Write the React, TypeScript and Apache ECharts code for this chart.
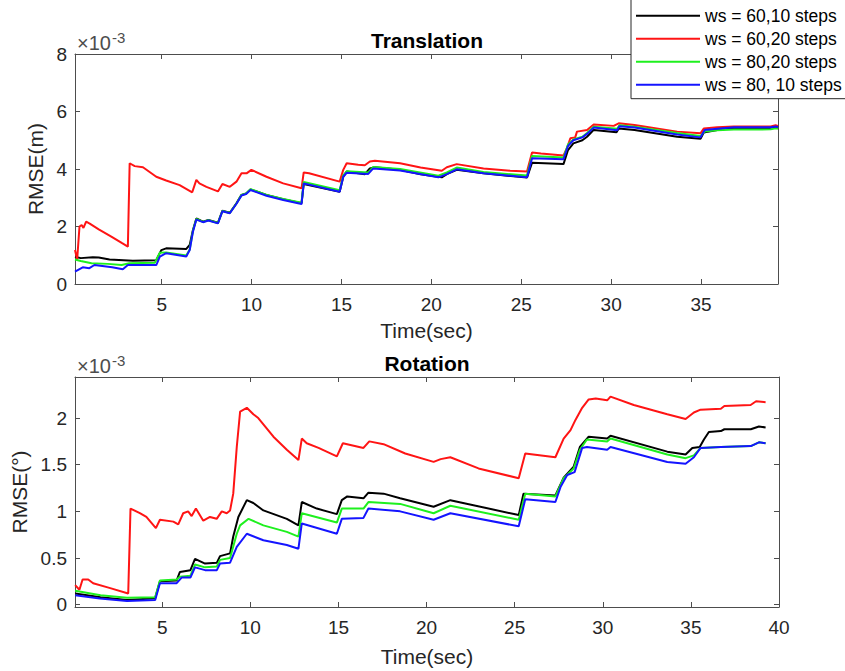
import { useEffect, useRef } from 'react';
import * as echarts from 'echarts';

type Pt = [number, number];

const seriesNames = ['ws = 60,10 steps', 'ws = 60,20 steps', 'ws = 80,20 steps', 'ws = 80, 10 steps'];
const seriesColors = ['#000000', '#ff1414', '#1ef01e', '#1414ff'];

// Translation RMSE (x1e-3 m) over time (sec)
const transWs60s10: Pt[] = [
  [0.18, 0.95], [0.5, 0.9], [1.17, 0.93], [1.5, 0.92], [2.1, 0.85], [3.4, 0.81], [4.7, 0.83], [4.98, 1.18],
  [5.25, 1.24], [6.37, 1.22], [6.56, 1.36], [6.74, 1.88], [6.93, 2.28], [7.3, 2.17], [7.6, 2.23], [8.13, 2.13],
  [8.38, 2.55], [8.79, 2.48], [9.16, 2.81], [9.44, 3.1], [9.7, 3.15], [9.94, 3.29], [10.83, 3.1], [11.76, 2.95],
  [12.78, 2.81], [12.9, 3.48], [14.9, 3.21], [15.1, 3.73], [15.29, 3.91], [15.93, 3.85], [16.3, 3.82], [16.58, 4.02],
  [16.86, 4.06], [18.26, 3.97], [19.4, 3.82], [20.58, 3.71], [20.86, 3.82], [21.41, 3.97], [22.9, 3.85], [25.32, 3.7],
  [25.6, 4.22], [27.35, 4.17], [27.6, 4.66], [27.9, 4.89], [28.4, 5.0], [28.66, 5.12], [29.03, 5.36], [30.3, 5.28],
  [30.42, 5.41], [31.3, 5.36], [33.67, 5.12], [34.97, 5.05], [35.15, 5.27], [35.9, 5.36], [36.83, 5.43], [38.87, 5.43],
  [39.15, 5.47], [39.28, 5.45],
];
const transWs60s20: Pt[] = [
  [0.18, 1.18], [0.3, 0.85], [0.43, 2.0], [0.55, 2.05], [0.65, 1.95], [0.8, 2.17], [1.0, 2.1], [1.5, 1.9],
  [2.2, 1.65], [2.8, 1.42], [3.12, 1.3], [3.22, 4.2], [3.5, 4.1], [3.96, 4.06], [4.7, 3.73], [5.25, 3.6],
  [6.0, 3.44], [6.7, 3.19], [6.93, 3.62], [7.1, 3.5], [7.49, 3.38], [8.13, 3.22], [8.38, 3.48], [8.79, 3.38],
  [9.16, 3.56], [9.44, 3.85], [9.72, 3.85], [9.99, 3.97], [10.83, 3.73], [11.76, 3.5], [12.78, 3.33], [12.9, 3.88],
  [13.2, 3.85], [14.9, 3.56], [15.1, 3.97], [15.29, 4.2], [15.93, 4.15], [16.3, 4.13], [16.58, 4.26], [16.86, 4.29],
  [18.26, 4.2], [19.4, 4.05], [20.58, 3.94], [20.86, 4.06], [21.41, 4.17], [22.9, 4.02], [24.38, 3.94], [25.32, 3.91],
  [25.6, 4.57], [26.1, 4.54], [27.35, 4.47], [27.54, 4.72], [27.73, 5.07], [28.0, 5.1], [28.1, 5.3], [28.66, 5.36],
  [29.03, 5.55], [30.14, 5.5], [30.42, 5.59], [31.3, 5.53], [33.67, 5.3], [34.97, 5.24], [35.15, 5.41], [35.9, 5.45],
  [36.83, 5.48], [38.87, 5.48], [39.15, 5.52], [39.28, 5.5],
];
const transWs80s20: Pt[] = [
  [0.18, 0.85], [0.5, 0.8], [1.1, 0.72], [2.0, 0.7], [2.77, 0.66], [3.2, 0.72], [4.62, 0.74], [4.9, 1.09],
  [5.25, 1.1], [6.37, 0.99], [6.56, 1.2], [6.74, 1.85], [6.93, 2.26], [7.3, 2.16], [7.6, 2.22], [8.13, 2.12],
  [8.38, 2.54], [8.79, 2.47], [9.16, 2.8], [9.44, 3.1], [9.7, 3.15], [9.94, 3.3], [10.83, 3.1], [11.76, 2.96],
  [12.78, 2.83], [12.9, 3.55], [14.9, 3.26], [15.1, 3.78], [15.29, 3.92], [16.49, 3.88], [16.77, 4.07], [18.26, 4.0],
  [20.39, 3.77], [20.86, 3.88], [21.41, 4.05], [22.9, 3.9], [25.32, 3.77], [25.6, 4.45], [27.35, 4.4], [27.6, 4.85],
  [27.9, 5.03], [28.4, 5.12], [28.66, 5.25], [29.03, 5.47], [30.33, 5.4], [30.46, 5.52], [31.3, 5.47], [33.67, 5.25],
  [34.97, 5.15], [35.2, 5.3], [35.9, 5.35], [36.83, 5.37], [38.87, 5.38], [39.15, 5.42], [39.28, 5.4],
];
const transWs80s10: Pt[] = [
  [0.18, 0.43], [0.61, 0.58], [0.98, 0.55], [1.26, 0.66], [2.25, 0.58], [2.84, 0.51], [3.12, 0.66], [4.7, 0.66],
  [4.9, 0.95], [5.25, 1.07], [6.37, 0.96], [6.56, 1.18], [6.74, 1.82], [6.93, 2.24], [7.3, 2.15], [7.6, 2.21],
  [8.13, 2.11], [8.38, 2.53], [8.79, 2.46], [9.16, 2.79], [9.44, 3.08], [9.7, 3.13], [9.94, 3.27], [10.83, 3.07],
  [11.76, 2.92], [12.78, 2.78], [12.9, 3.5], [14.9, 3.21], [15.1, 3.73], [15.29, 3.87], [16.49, 3.83], [16.77, 4.02],
  [18.26, 3.95], [20.39, 3.71], [20.86, 3.82], [21.41, 3.99], [22.9, 3.85], [25.32, 3.71], [25.6, 4.37], [27.35, 4.34],
  [27.6, 4.8], [27.9, 5.0], [28.4, 5.1], [28.66, 5.22], [29.03, 5.44], [30.33, 5.35], [30.46, 5.49], [31.3, 5.44],
  [33.67, 5.2], [34.97, 5.1], [35.2, 5.36], [35.9, 5.4], [36.83, 5.45], [38.87, 5.45], [39.15, 5.48], [39.28, 5.46],
];

// Rotation RMSE (x1e-3 deg) over time (sec)
const rotWs60s10: Pt[] = [
  [0.06, 0.12], [1.5, 0.08], [3.0, 0.05], [4.6, 0.07], [4.87, 0.25], [5.82, 0.26], [6.0, 0.35], [6.6, 0.37],
  [6.86, 0.49], [7.43, 0.44], [8.1, 0.45], [8.28, 0.52], [8.85, 0.55], [9.03, 0.73], [9.32, 0.94], [9.8, 1.12],
  [10.17, 1.09], [10.74, 1.01], [12.07, 0.92], [12.73, 0.85], [12.92, 1.1], [13.77, 1.03], [14.91, 0.97], [15.19, 1.12],
  [15.5, 1.16], [16.42, 1.14], [16.7, 1.2], [17.56, 1.19], [18.5, 1.14], [20.4, 1.05], [21.35, 1.12], [25.23, 0.96],
  [25.5, 1.19], [27.31, 1.17], [27.78, 1.36], [28.35, 1.48], [28.7, 1.69], [29.2, 1.8], [30.25, 1.78], [30.44, 1.81],
  [33.66, 1.64], [34.7, 1.61], [35.08, 1.68], [35.5, 1.69], [35.74, 1.77], [36.02, 1.85], [36.7, 1.86], [36.9, 1.88],
  [38.4, 1.88], [38.86, 1.91], [39.24, 1.9],
];
const rotWs60s20: Pt[] = [
  [0.06, 0.21], [0.3, 0.16], [0.48, 0.27], [0.8, 0.27], [1.08, 0.23], [2.0, 0.18], [3.07, 0.12], [3.2, 1.03],
  [3.73, 0.98], [4.1, 0.94], [4.64, 0.82], [4.87, 0.91], [5.63, 0.89], [5.91, 0.86], [6.19, 0.98], [6.47, 1.0],
  [6.67, 0.95], [6.91, 1.03], [7.33, 0.9], [7.71, 0.94], [8.09, 0.92], [8.38, 1.0], [8.66, 0.98], [8.85, 1.01],
  [9.03, 1.19], [9.23, 1.69], [9.42, 2.07], [9.8, 2.11], [10.17, 2.04], [10.45, 2.0], [11.31, 1.8], [12.07, 1.66],
  [12.73, 1.55], [12.92, 1.78], [13.2, 1.73], [13.87, 1.68], [14.91, 1.59], [15.25, 1.73], [16.42, 1.68], [16.75, 1.75],
  [17.56, 1.72], [18.79, 1.62], [20.4, 1.53], [20.8, 1.56], [21.35, 1.58], [22.95, 1.46], [25.23, 1.355], [25.6, 1.62],
  [27.31, 1.58], [27.78, 1.78], [28.17, 1.87], [28.45, 1.98], [28.83, 2.11], [29.2, 2.2], [29.6, 2.21], [30.25, 2.19],
  [30.44, 2.23], [31.76, 2.14], [33.66, 2.04], [34.7, 1.99], [35.17, 2.06], [35.55, 2.09], [36.7, 2.1], [36.9, 2.13],
  [38.39, 2.14], [38.7, 2.18], [39.24, 2.17],
];
const rotWs80s20: Pt[] = [
  [0.06, 0.15], [1.5, 0.1], [3.0, 0.075], [4.6, 0.08], [4.87, 0.26], [5.82, 0.27], [6.0, 0.3], [6.6, 0.31],
  [6.86, 0.43], [7.43, 0.4], [8.1, 0.41], [8.28, 0.48], [8.85, 0.5], [9.23, 0.76], [9.42, 0.85], [9.9, 0.92],
  [10.74, 0.85], [12.07, 0.78], [12.73, 0.73], [12.92, 0.98], [14.91, 0.88], [15.19, 1.03], [16.42, 1.03], [16.7, 1.1],
  [18.5, 1.08], [20.4, 0.98], [21.35, 1.06], [25.23, 0.91], [25.6, 1.19], [27.31, 1.16], [27.78, 1.355], [28.35, 1.46],
  [28.7, 1.66], [29.1, 1.77], [30.25, 1.75], [30.44, 1.78], [33.66, 1.61], [34.7, 1.57], [35.17, 1.6], [35.55, 1.68],
  [36.7, 1.69], [38.4, 1.7], [38.86, 1.74], [39.24, 1.73],
];
const rotWs80s10: Pt[] = [
  [0.06, 0.1], [1.46, 0.065], [3.0, 0.04], [4.6, 0.05], [4.87, 0.23], [5.82, 0.23], [6.1, 0.29], [6.6, 0.29],
  [6.86, 0.4], [7.43, 0.37], [8.1, 0.37], [8.28, 0.44], [8.85, 0.45], [9.23, 0.62], [9.8, 0.76], [10.74, 0.69],
  [12.07, 0.64], [12.73, 0.6], [12.92, 0.87], [14.91, 0.76], [15.19, 0.92], [16.42, 0.93], [16.7, 1.03], [18.5, 1.0],
  [20.4, 0.91], [21.35, 0.98], [25.23, 0.84], [25.6, 1.13], [27.31, 1.1], [27.6, 1.26], [27.98, 1.39], [28.4, 1.42],
  [28.83, 1.68], [29.1, 1.69], [30.25, 1.66], [30.44, 1.69], [33.66, 1.53], [34.7, 1.51], [35.17, 1.58], [35.55, 1.68],
  [36.7, 1.69], [38.4, 1.7], [38.86, 1.74], [39.24, 1.73],
];

const transXTicks = [5, 10, 15, 20, 25, 30, 35];
const transYTicks = [0, 2, 4, 6, 8];
const rotXTicks = [5, 10, 15, 20, 25, 30, 35, 40];
const rotYTicks = [0, 0.5, 1, 1.5, 2];

const FONT = '"Liberation Sans", Arial, Helvetica, sans-serif';
const AXIS_COLOR = '#4d4d4d';
const LABEL_COLOR = '#262626';

function xAxes(gridIndex: number, min: number, max: number, ticks: number[], nameGap: number) {
  const line = { show: true, onZero: false, lineStyle: { color: AXIS_COLOR, width: 1 } };
  const tick = { show: true, inside: true, length: 5, customValues: ticks, lineStyle: { color: AXIS_COLOR } };
  return [
    {
      gridIndex, type: 'value', position: 'bottom', min, max,
      axisLine: line, axisTick: tick, splitLine: { show: false },
      axisLabel: { customValues: ticks, margin: 11, fontSize: 19, color: LABEL_COLOR, fontFamily: FONT },
      name: 'Time(sec)', nameLocation: 'middle', nameGap,
      nameTextStyle: { fontSize: 21, color: LABEL_COLOR, fontFamily: FONT },
    },
    {
      gridIndex, type: 'value', position: 'top', min, max,
      axisLine: line, axisTick: tick, splitLine: { show: false }, axisLabel: { show: false },
    },
  ];
}

function yAxes(gridIndex: number, min: number, max: number, ticks: number[], name: string, nameGap: number) {
  const line = { show: true, onZero: false, lineStyle: { color: AXIS_COLOR, width: 1 } };
  const tick = { show: true, inside: true, length: 5, customValues: ticks, lineStyle: { color: AXIS_COLOR } };
  return [
    {
      gridIndex, type: 'value', position: 'left', min, max,
      axisLine: line, axisTick: tick, splitLine: { show: false },
      axisLabel: { customValues: ticks, margin: 8, fontSize: 19, color: LABEL_COLOR, fontFamily: FONT },
      name, nameLocation: 'middle', nameGap,
      nameTextStyle: { fontSize: 21, color: LABEL_COLOR, fontFamily: FONT },
    },
    {
      gridIndex, type: 'value', position: 'right', min, max,
      axisLine: line, axisTick: tick, splitLine: { show: false }, axisLabel: { show: false },
    },
  ];
}

function lineSeries(name: string, color: string, data: Pt[], axisIndex: number) {
  return {
    type: 'line', name, data, xAxisIndex: axisIndex, yAxisIndex: axisIndex,
    showSymbol: false, symbol: 'none', lineStyle: { color, width: 2 }, itemStyle: { color },
    clip: true,
  };
}

// "×10^-3" multiplier drawn above the y axis
function exponentLabel(x: number, baseBottom: number) {
  return [
    {
      type: 'text', x, y: baseBottom,
      style: { text: '×10', font: `20px ${FONT}`, fill: AXIS_COLOR, textAlign: 'left', textVerticalAlign: 'bottom' },
    },
    {
      type: 'text', x: x + 35, y: baseBottom - 23,
      style: { text: '-3', font: `15px ${FONT}`, fill: AXIS_COLOR, textAlign: 'left', textVerticalAlign: 'top' },
    },
  ];
}

export default function App() {
  const ref = useRef<HTMLDivElement>(null);

  useEffect(() => {
    document.body.style.margin = '0';
    if (!ref.current) return;
    const chart = echarts.init(ref.current, undefined, { renderer: 'svg' });

    const transSets = [transWs60s10, transWs60s20, transWs80s20, transWs80s10];
    const rotSets = [rotWs60s10, rotWs60s20, rotWs80s20, rotWs80s10];

    chart.setOption({
      animation: false,
      backgroundColor: '#ffffff',
      grid: [
        { left: 75, top: 54, width: 703, height: 230 },
        { left: 75, top: 377, width: 704, height: 230 },
      ],
      xAxis: [
        ...xAxes(0, 0.18, 39.28, transXTicks, 36),
        ...xAxes(1, 0.05, 40, rotXTicks, 39),
      ],
      yAxis: [
        ...yAxes(0, 0, 8, transYTicks, 'RMSE(m)', 24),
        ...yAxes(1, -0.025, 2.44, rotYTicks, 'RMSE(°)', 39),
      ],
      legend: {
        data: seriesNames,
        orient: 'vertical',
        left: 631,
        top: -3,
        padding: [8.7, 14, 4, 5],
        itemWidth: 64,
        itemHeight: 2,
        itemGap: 3,
        icon: 'rect',
        selectedMode: false,
        backgroundColor: '#ffffff',
        borderColor: '#262626',
        borderWidth: 1,
        textStyle: { fontSize: 17.5, lineHeight: 20, color: '#000000', fontFamily: FONT },
        z: 10,
      },
      graphic: [
        {
          type: 'text', x: 427, y: 40,
          style: { text: 'Translation', font: `bold 21px ${FONT}`, fill: '#000', textAlign: 'center', textVerticalAlign: 'middle' },
        },
        {
          type: 'text', x: 427, y: 363,
          style: { text: 'Rotation', font: `bold 21px ${FONT}`, fill: '#000', textAlign: 'center', textVerticalAlign: 'middle' },
        },
        ...exponentLabel(77, 53),
        ...exponentLabel(77, 376),
      ],
      series: [
        ...seriesNames.map((n, i) => lineSeries(n, seriesColors[i], transSets[i], 0)),
        ...seriesNames.map((n, i) => lineSeries(n, seriesColors[i], rotSets[i], 2)),
      ],
    });

    return () => chart.dispose();
  }, []);

  return <div ref={ref} style={{ width: 845, height: 671 }} />;
}
